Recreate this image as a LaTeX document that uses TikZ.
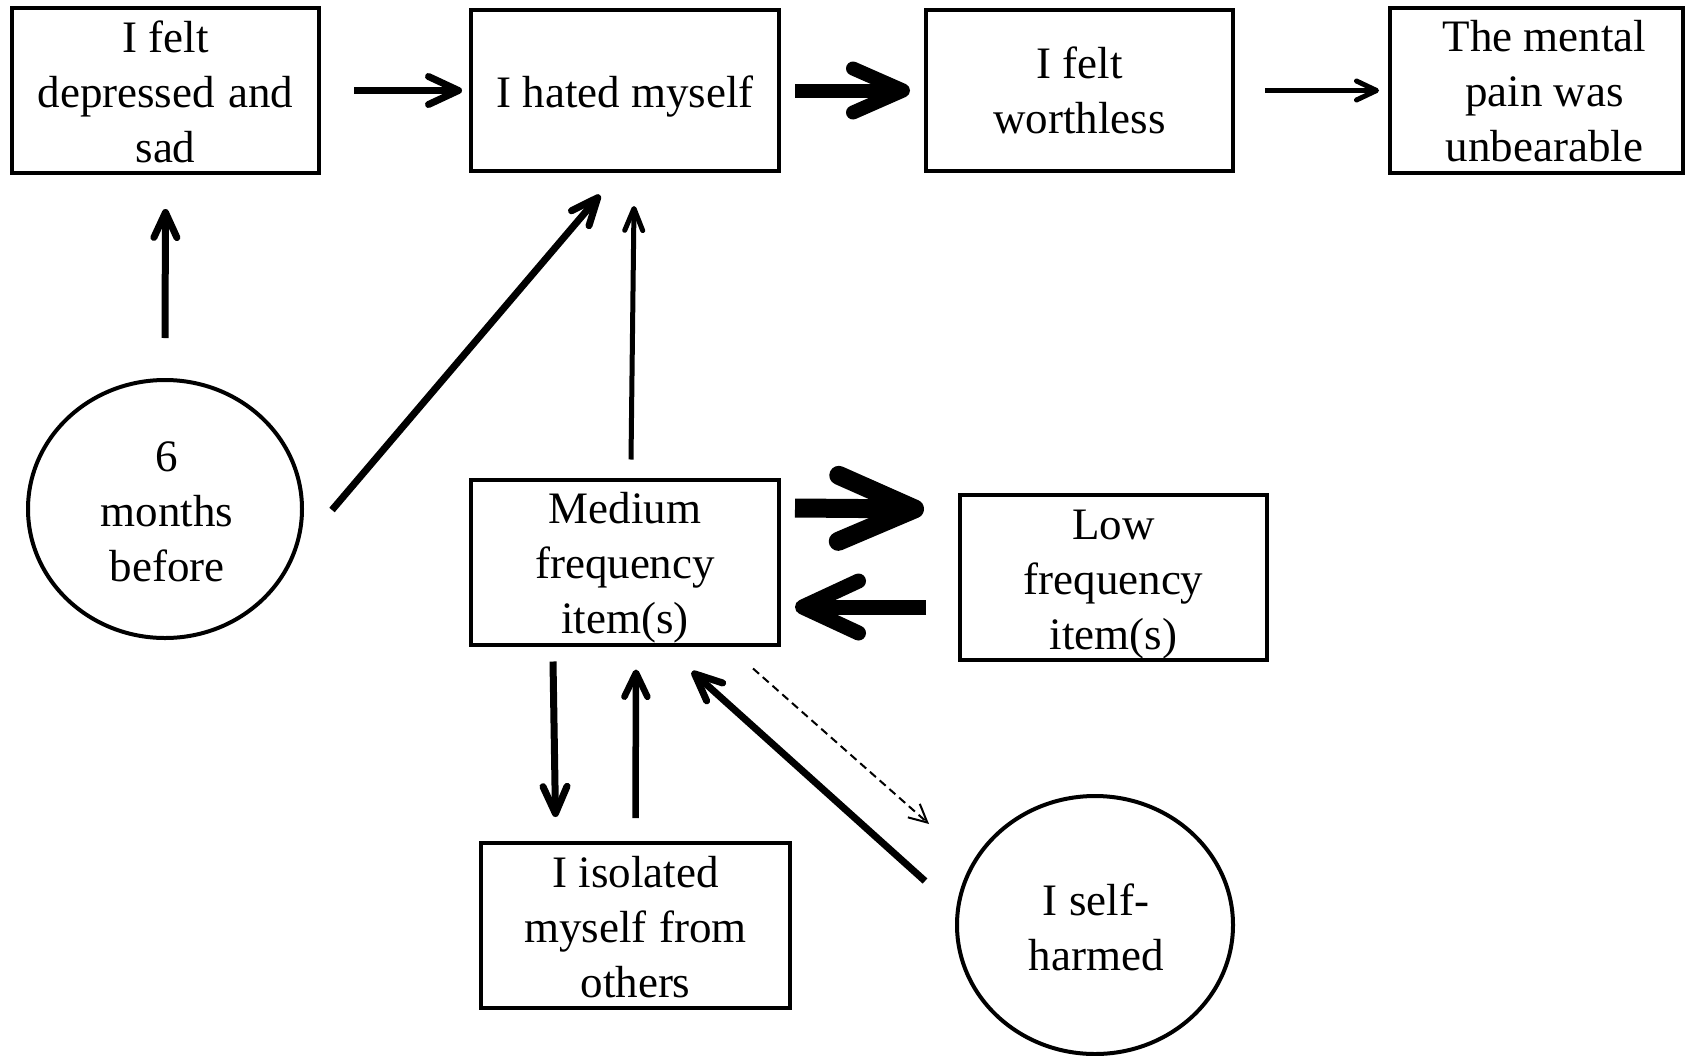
\documentclass[tikz,border=0pt]{standalone}
\usepackage{fontspec}
\setmainfont{Liberation Serif}
\usetikzlibrary{arrows.meta,shapes.geometric,calc}
\newcommand\btext[3]{\hspace*{#2}\raisebox{-#1}[\height][\depth]{\begin{tabular}{@{}c@{}}#3\end{tabular}}}
\tikzset{
  box/.style={draw, line width=4pt, minimum width=307pt, minimum height=161pt, inner sep=0pt, font=\fontsize{45}{55}\selectfont},
  oval/.style={draw, ellipse, line width=4pt, minimum width=275pt, minimum height=258pt, inner sep=0pt, font=\fontsize{45}{55}\selectfont},
  arr/.style n args={3}{line width=#1, -{Straight Barb[round, length=#2, width=#3]}},
  darr/.style={line width=2pt, dash pattern=on 8pt off 5pt, -{Straight Barb[length=18pt, width=18pt]}}
}
\begin{document}
\begin{tikzpicture}[x=1pt, y=-1pt]
\useasboundingbox (0,0) rectangle (1685,1055);
% top row
\node[box] (b1) at (165.5,90.5) {\btext{5.5pt}{0pt}{I felt\\depressed\hspace{0.3em}and\\sad}};
\node[box, minimum width=308pt] (b2) at (625,90.5) {\btext{6pt}{0pt}{I hated myself}};
\node[box] (b3) at (1079.5,90.5) {\btext{4.2pt}{0pt}{I felt\\worthless}};
\node[box, minimum width=293pt] (b4) at (1536.5,90.5) {\btext{5.2pt}{16pt}{The mental\\pain was\\unbearable}};
% middle
\node[oval, minimum width=274pt] (c6) at (165,509) {\btext{6pt}{4pt}{6\\months\\before}};
\node[box, minimum width=308pt, minimum height=164pt] (med) at (625,562) {\btext{5pt}{0pt}{Medium\\frequency\\item(s)}};
\node[box, minimum height=162pt] (low) at (1113.5,577) {\btext{6pt}{0pt}{Low\\frequency\\item(s)}};
% bottom
\node[box, minimum width=309pt, minimum height=163pt] (iso) at (635.5,925.5) {\btext{6.3pt}{0pt}{I isolated\\myself\hspace{0.28em}from\\others}};
\node[oval, minimum width=276pt] (sh) at (1095,925) {\btext{7.4pt}{2pt}{I self-\\harmed}};
% connectors
\draw[arr={7pt}{30pt}{28pt}] ($(b1.east)+(33,0)$) -- ($(b2.west)+(-7,0)$);
\draw[arr={14pt}{50pt}{44pt}] ($(b2.east)+(14,0)$) -- ($(b3.west)+(-14,0)$);
\draw[arr={5pt}{20pt}{19pt}] ($(b3.east)+(30,0)$) -- ($(b4.west)+(-9,0)$);
\draw[arr={7pt}{25pt}{23pt}] ($(c6.north)+(0,-40)$) -- ($(b1.south)+(0,34)$);
\draw[arr={7pt}{27pt}{23pt}] ($(c6.east)+(28,1)$) -- ($(b2.south)+(-25,22)$);
\draw[arr={5pt}{22pt}{18pt}] ($(med.north)+(6,-18)$) -- ($(b2.south)+(9,33)$);
\draw[arr={19pt}{76pt}{66pt}] ($(med.east)+(14,-54)$) -- ($(low.west)+(-34,-68)$);
\draw[arr={15pt}{56pt}{52pt}] ($(low.west)+(-32,30)$) -- ($(med.east)+(14,45)$);
\draw[arr={7pt}{27pt}{24pt}] ($(med.south)+(-72,15)$) -- ($(iso.north)+(-80,-24)$);
\draw[arr={6.5pt}{24pt}{23pt}] ($(iso.north)+(0,-23)$) -- ($(med.south)+(11,23)$);
\draw[arr={7pt}{27pt}{24pt}] ($(sh.west)+(-30,-44)$) -- ($(med.south)+(67,25)$);
\draw[darr] ($(med.south)+(128,22)$) -- ($(sh.west)+(-26,-101)$);
\end{tikzpicture}
\end{document}
